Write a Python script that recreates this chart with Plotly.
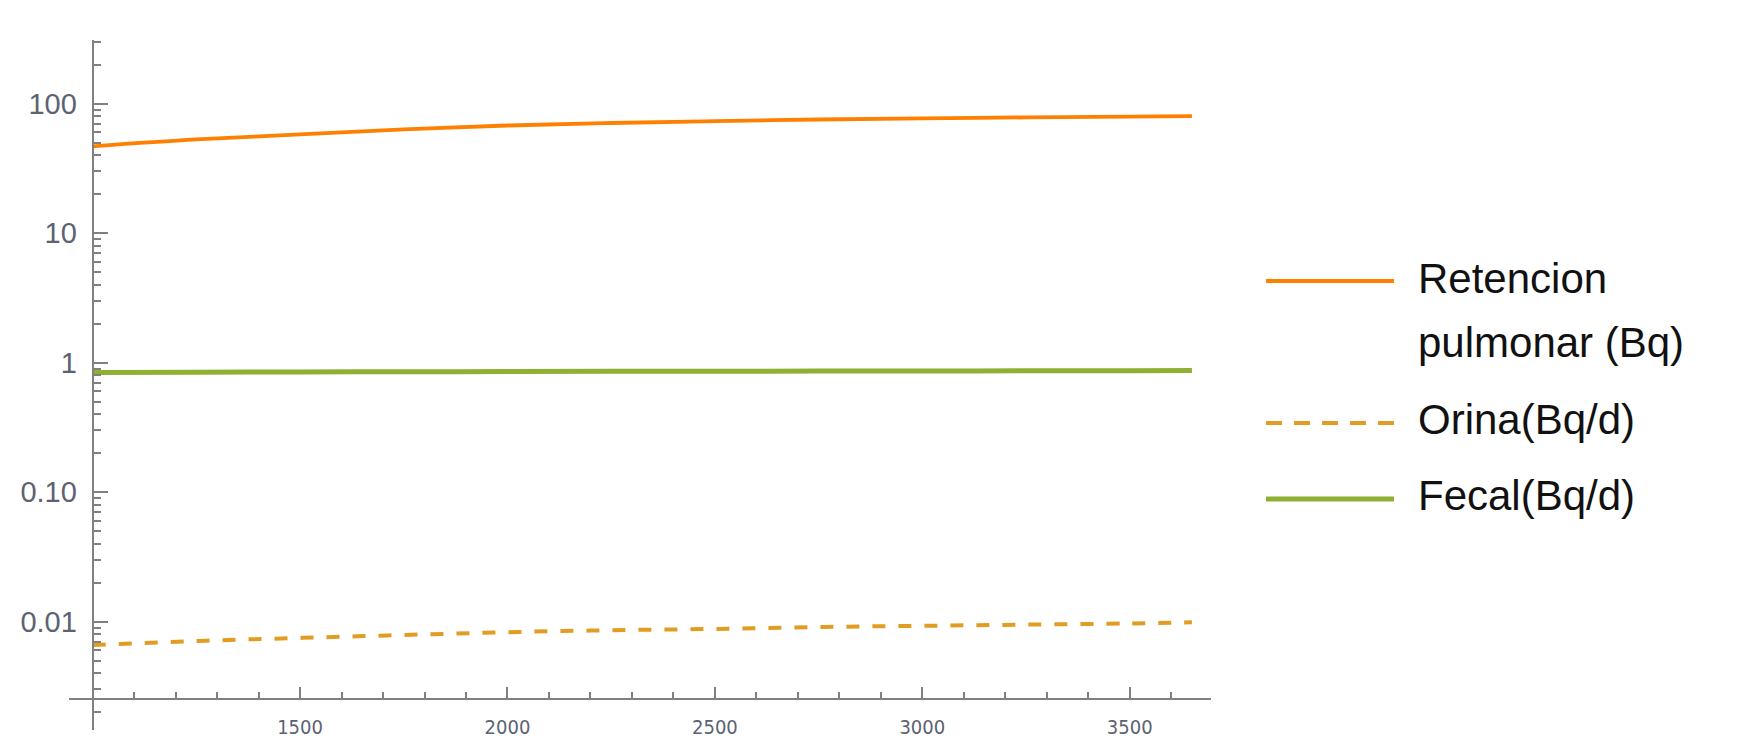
import math
import plotly.graph_objects as go

# ---------------- data ----------------
days = [1000, 1250, 1500, 1750, 2000, 2250, 2500, 2750, 3000, 3250, 3500, 3650]
retencion = [46.9, 53.0, 57.9, 63.3, 67.9, 71.0, 73.4, 75.5, 77.1, 78.4, 79.4, 80.2]
orina = [0.0066, 0.0071, 0.0075, 0.0079, 0.0083, 0.0086, 0.0088, 0.0091, 0.0093, 0.0095, 0.0097, 0.0099]
fecal = [0.840, 0.845, 0.849, 0.852, 0.855, 0.858, 0.860, 0.862, 0.864, 0.866, 0.868, 0.869]

series_names = ["Retencion pulmonar (Bq)", "Orina(Bq/d)", "Fecal(Bq/d)"]
legend_lines = [["Retencion", "pulmonar (Bq)"], ["Orina(Bq/d)"], ["Fecal(Bq/d)"]]

x_tickvals = [1500, 2000, 2500, 3000, 3500]
x_ticktext = ["1500", "2000", "2500", "3000", "3500"]
y_tickvals = [0.01, 0.1, 1, 10, 100]
y_ticktext = ["0.01", "0.10", "1", "10", "100"]

# ---------------- styling ----------------
# the page body has an 8px margin, so the figure is made 8px smaller and
# all reference pixel positions are shifted by that offset
OFF = 8
W, H = 1742 - OFF, 740 - OFF
ML, MR, MT, MB = 69 - OFF, 531, 40 - OFF, 10
x_range = [943, 3696]
y_range = [-2.836, 2.492]          # log10
axis_origin_x = 1000
axis_origin_y = 0.00253

c_ret = "#FF8000"
c_ori = "#E19C24"
c_fec = "#8FB032"
axis_col = "#808080"
label_col = "#5c6272"

plot_w = W - ML - MR
plot_h = H - MT - MB


def px_x(p):
    return (p - OFF - ML) / plot_w


def px_y(p):
    return (H - MB - (p - OFF)) / plot_h


pos_y_axis = (axis_origin_x - x_range[0]) / (x_range[1] - x_range[0])
pos_x_axis = (math.log10(axis_origin_y) - y_range[0]) / (y_range[1] - y_range[0])

fig = go.Figure()
fig.add_trace(go.Scatter(x=days, y=retencion, mode="lines", name=series_names[0],
                         line=dict(color=c_ret, width=3.8, shape="spline"), showlegend=False))
fig.add_trace(go.Scatter(x=days, y=orina, mode="lines", name=series_names[1],
                         line=dict(color=c_ori, width=4, dash="13px,13px", shape="spline"), showlegend=False))
fig.add_trace(go.Scatter(x=days, y=fecal, mode="lines", name=series_names[2],
                         line=dict(color=c_fec, width=5, shape="spline"), showlegend=False))

fig.update_layout(
    width=W, height=H,
    margin=dict(l=ML, r=MR, t=MT, b=MB, autoexpand=False),
    paper_bgcolor="white", plot_bgcolor="white",
    font=dict(family="Liberation Sans, Arial, sans-serif"),
    xaxis=dict(
        range=x_range, showgrid=False, zeroline=False,
        showline=True, linecolor=axis_col, linewidth=2,
        anchor="free", position=pos_x_axis,
        tickmode="array", tickvals=x_tickvals, ticktext=x_ticktext,
        ticks="inside", ticklen=11, tickwidth=1.5, tickcolor=axis_col,
        minor=dict(dtick=100, tick0=1000, ticks="inside", ticklen=6,
                   tickwidth=1.5, tickcolor=axis_col, showgrid=False),
        tickfont=dict(family="DejaVu Sans Condensed, Liberation Sans Narrow, sans-serif",
                      size=20, color=label_col),
        ticklabelstandoff=10,
        automargin=False,
    ),
    yaxis=dict(
        type="log", range=y_range, showgrid=False, zeroline=False,
        showline=True, linecolor=axis_col, linewidth=2,
        anchor="free", position=pos_y_axis,
        tickmode="array", tickvals=y_tickvals, ticktext=y_ticktext,
        ticks="inside", ticklen=14, tickwidth=1.5, tickcolor=axis_col,
        minor=dict(dtick="D1", ticks="inside", ticklen=7,
                   tickwidth=1.5, tickcolor=axis_col, showgrid=False),
        tickfont=dict(family="Liberation Sans, Arial, sans-serif", size=29, color=label_col),
        ticklabelstandoff=9,
        automargin=False,
    ),
)

# ---------------- manual legend (positions in reference pixels) ----------------
leg_x0, leg_x1 = 1266, 1394
leg_line_y = [281, 423, 499]
leg_styles = [dict(color=c_ret, width=3.8), dict(color=c_ori, width=4, dash="16px,12px"),
              dict(color=c_fec, width=5)]
text_x = 1416
text_centers = [[278, 342], [419], [495]]

shapes = []
annotations = []
for i, lines in enumerate(legend_lines):
    shapes.append(dict(type="line", xref="paper", yref="paper",
                       x0=px_x(leg_x0), x1=px_x(leg_x1),
                       y0=px_y(leg_line_y[i]), y1=px_y(leg_line_y[i]),
                       line=leg_styles[i]))
    for j, txt in enumerate(lines):
        annotations.append(dict(text=txt, xref="paper", yref="paper",
                                x=px_x(text_x), y=px_y(text_centers[i][j]),
                                xanchor="left", yanchor="middle", showarrow=False,
                                font=dict(family="Liberation Sans, Arial, sans-serif",
                                          size=42, color="#111111")))
fig.update_layout(shapes=shapes, annotations=annotations)

fig.write_html("out.html")
